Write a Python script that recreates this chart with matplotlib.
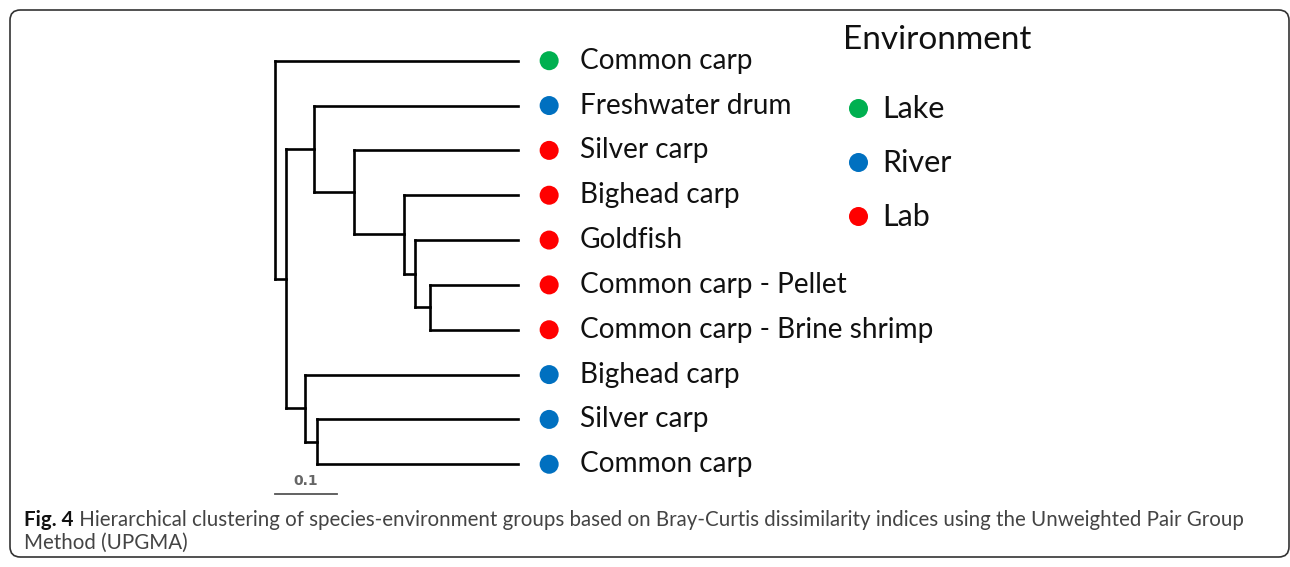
import matplotlib.pyplot as plt
from matplotlib.lines import Line2D
from matplotlib.patches import FancyBboxPatch

# leaves, top to bottom
leaf_labels = ["Common carp", "Freshwater drum", "Silver carp", "Bighead carp",
               "Goldfish", "Common carp - Pellet", "Common carp - Brine shrimp",
               "Bighead carp", "Silver carp", "Common carp"]
leaf_envs = ["Lake", "River", "Lab", "Lab", "Lab", "Lab", "Lab",
             "River", "River", "River"]

# UPGMA merges: (left child, right child, height); leaves 0-9, nodes 10+
merges = [
    (5, 6, 0.143),
    (4, 10, 0.167),
    (3, 11, 0.186),
    (2, 12, 0.266),
    (1, 13, 0.331),
    (8, 9, 0.327),
    (7, 15, 0.345),
    (14, 16, 0.3765),
    (0, 17, 0.394),
]

env_names = ["Lake", "River", "Lab"]
env_colors = {"Lake": "#00B050", "River": "#0070C0", "Lab": "#FF0000"}
scale_len = 0.1

W, H = 1290, 567
fig = plt.figure(figsize=(W / 100, H / 100), dpi=100)
ax = fig.add_axes([0, 0, 1, 1])
ax.set_axis_off()

# map data units onto the canvas: 617 px per unit of distance, 44.84 px per leaf
px_unit = 617.0
tip_px = 518.3
leaf0_px, leaf_step = 60.7, 44.84
ax.set_xlim(tip_px / px_unit, (tip_px - W) / px_unit)
ax.set_ylim((H - leaf0_px) / leaf_step, -leaf0_px / leaf_step)

n = len(leaf_labels)
ypos = {i: float(i) for i in range(n)}
hpos = {i: 0.0 for i in range(n)}

line_kw = dict(color="black", lw=1.9, solid_capstyle="projecting",
               solid_joinstyle="miter")
for k, (a, b, h) in enumerate(merges):
    node = n + k
    for c in (a, b):
        ax.plot([hpos[c], h], [ypos[c], ypos[c]], **line_kw)
    ax.plot([h, h], [ypos[a], ypos[b]], **line_kw)
    ypos[node] = (ypos[a] + ypos[b]) / 2
    hpos[node] = h

font = "Lato"

# colored dots + labels
dot_x = -0.05
ax.scatter([dot_x] * n, range(n), s=13.7 ** 2,
           c=[env_colors[e] for e in leaf_envs], edgecolors="none", zorder=3)
for i, lab in enumerate(leaf_labels):
    ax.text(-0.1, i, lab, va="center", ha="left", fontsize=20.2,
            family=font, color="#111111")

# scale bar
root_h = merges[-1][2]
ax.plot([root_h, root_h - scale_len], [9.67, 9.67], color="#555555", lw=1.3)
ax.text(root_h - scale_len / 2, 9.38, f"{scale_len:g}", ha="center",
        va="center", fontsize=10, fontweight="bold", color="#666666",
        family="DejaVu Sans")

# legend
fig.text(843 / W, 1 - 40 / H, "Environment", fontsize=24, family=font,
         va="center", ha="left", color="#111111")
handles = [Line2D([], [], marker="o", linestyle="", markersize=13.7,
                  markerfacecolor=env_colors[e], markeredgewidth=0)
           for e in env_names]
leg = ax.legend(handles, env_names, loc="upper left",
                bbox_to_anchor=(827 / W, 1 - 80 / H),
                bbox_transform=fig.transFigure, frameon=False,
                prop={"family": font, "size": 22}, handletextpad=0.3,
                labelspacing=0.85, handlelength=1.0, borderpad=0)
for t in leg.get_texts():
    t.set_color("#111111")

# caption
cap = fig.text(24 / W, 1 - 520 / H, "Fig. 4", fontsize=14.8, fontweight="bold",
               family=font, va="center", ha="left", color="#111111")
ax.annotate(" Hierarchical clustering of species-environment groups based on "
            "Bray-Curtis dissimilarity indices using the Unweighted Pair Group",
            xy=(1, 0.5), xycoords=cap, va="center", ha="left",
            fontsize=14.8, family=font, color="#444444")
fig.text(24 / W, 1 - 543 / H, "Method (UPGMA)", fontsize=14.8,
         family=font, va="center", ha="left", color="#444444")

# rounded frame
frame = FancyBboxPatch((10 / W, 10 / H), 1279 / W, 547 / H,
                       boxstyle="round,pad=0,rounding_size=0.008",
                       mutation_aspect=W / H, transform=fig.transFigure,
                       fill=False, edgecolor="#333333", lw=1.2)
fig.patches.append(frame)

fig.savefig("out.png", dpi=100)
